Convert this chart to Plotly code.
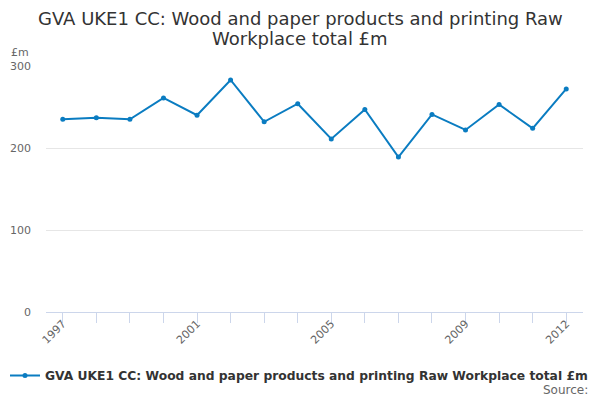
import plotly.graph_objects as go

years = list(range(1997, 2013))
values = [235, 237, 235, 261, 240, 283, 232, 254, 211, 247, 189, 241, 222, 253, 224, 272]
tick_years = [1997, 2001, 2005, 2009, 2012]
y_ticks = [0, 100, 200, 300]
series_name = "GVA UKE1 CC: Wood and paper products and printing Raw Workplace total £m"
title_lines = ["GVA UKE1 CC: Wood and paper products and printing Raw", "Workplace total £m"]

FONT = "DejaVu Sans"
LINE = "#0a7cc1"
OFF = 8  # page body margin (top/left)
W, H = 600 - OFF, 400 - OFF
L, R, T, B = 46 - OFF, 17, 66 - OFF, 88
PW, PH = W - L - R, H - T - B


def px(x):
    return (x - OFF - L) / PW


def py(y):
    return (H - B - (y - OFF)) / PH


fig = go.Figure()
fig.add_trace(go.Scatter(
    x=years, y=values, mode="lines+markers", name="<b>" + series_name + "</b>",
    line=dict(color=LINE, width=2), marker=dict(size=5, color=LINE),
))

annotations = [
    dict(text=title_lines[0], x=px(300), y=py(18), xanchor="center", yanchor="middle",
         font=dict(size=18, color="#333333")),
    dict(text=title_lines[1], x=px(300), y=py(39), xanchor="center", yanchor="middle",
         font=dict(size=18, color="#333333")),
    dict(text="£m", x=px(20), y=py(52), xanchor="center", yanchor="middle",
         font=dict(size=11, color="#666666")),
    dict(text="Source:", x=px(590), y=py(390), xanchor="right", yanchor="middle",
         font=dict(size=12, color="#666666")),
]
for a in annotations:
    a.update(xref="paper", yref="paper", showarrow=False)

fig.update_layout(
    width=W, height=H,
    margin=dict(l=L, r=R, t=T, b=B, autoexpand=False),
    paper_bgcolor="white", plot_bgcolor="white",
    font=dict(family=FONT, color="#666666", size=11),
    showlegend=True,
    legend=dict(orientation="h", x=px(299), xanchor="center", y=py(361), yanchor="top",
                font=dict(family=FONT, size=12.3, color="#333333"),
                itemwidth=30),
    xaxis=dict(
        range=[1996.5, 2012.5], tickmode="array", tickvals=tick_years,
        ticktext=[str(t) for t in tick_years], tickangle=-45, automargin=False,
        showgrid=False, showline=True, linecolor="#ccd6eb", linewidth=1,
        ticks="", zeroline=False, fixedrange=True,
        minor=dict(tickmode="array", tickvals=years, ticks="outside", ticklen=10,
                   tickcolor="#ccd6eb", showgrid=False),
        tickfont=dict(size=11, color="#666666"),
    ),
    yaxis=dict(
        range=[0, 300], tickvals=y_ticks, showgrid=True, gridcolor="#e6e6e6",
        zeroline=False, showline=False, ticks="", ticklabelstandoff=14, automargin=False,
        tickfont=dict(size=11, color="#666666"),
    ),
    annotations=annotations,
)

fig.write_html("out.html")
